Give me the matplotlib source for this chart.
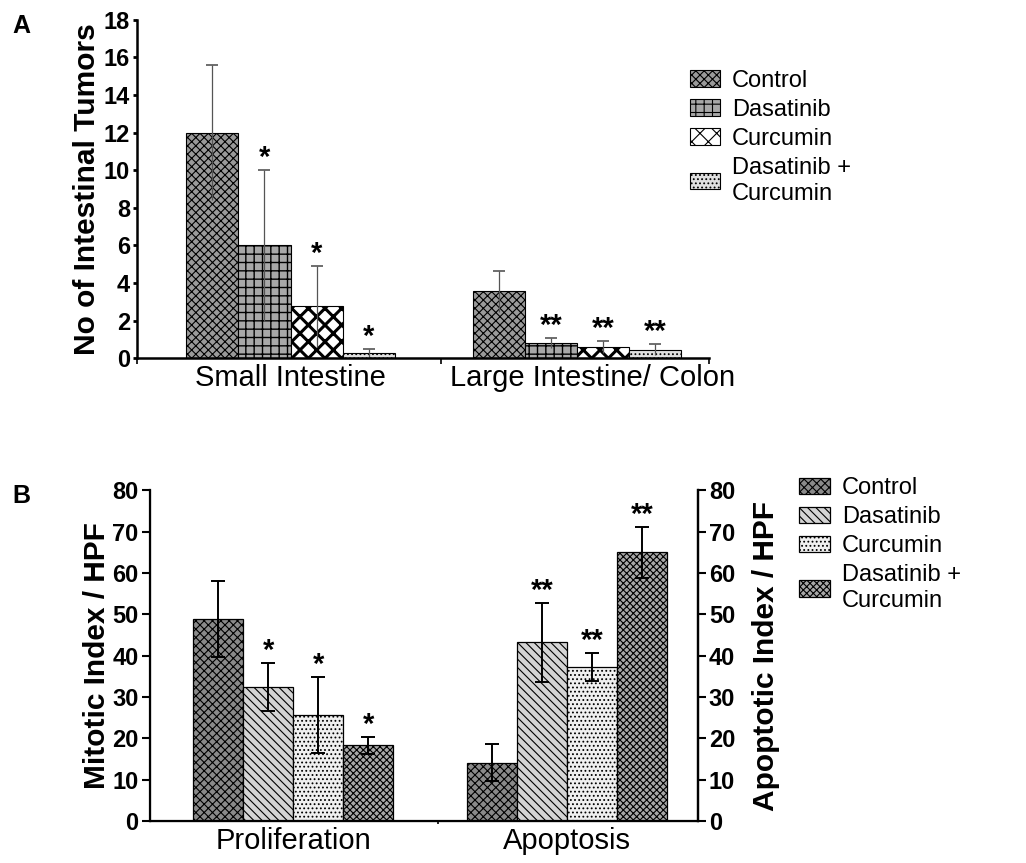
import matplotlib
matplotlib.use("Agg")
import matplotlib.pyplot as plt
import numpy as np

plt.rcParams['font.family'] = ['Liberation Sans', 'DejaVu Sans']
plt.rcParams['hatch.linewidth'] = 0.8

treatments = ["Control", "Dasatinib", "Curcumin", "Dasatinib +\nCurcumin"]

# panel A: tumours per mouse
sites = ["Small Intestine", "Large Intestine/ Colon"]
tumor_mean = {
    "Control":   [12.0, 3.55],
    "Dasatinib": [6.0, 0.8],
    "Curcumin":  [2.75, 0.6],
    "D+C":       [0.25, 0.45],
}
tumor_err = {
    "Control":   [3.6, 1.1],
    "Dasatinib": [4.0, 0.25],
    "Curcumin":  [2.15, 0.3],
    "D+C":       [0.25, 0.3],
}
tumor_sig = {
    "Control":   ["", ""],
    "Dasatinib": ["*", "**"],
    "Curcumin":  ["*", "**"],
    "D+C":       ["*", "**"],
}

# panel B: mitotic / apoptotic index
measures = ["Proliferation", "Apoptosis"]
index_mean = {
    "Control":   [48.8, 14.1],
    "Dasatinib": [32.5, 43.2],
    "Curcumin":  [25.7, 37.2],
    "D+C":       [18.3, 65.0],
}
index_err = {
    "Control":   [9.2, 4.5],
    "Dasatinib": [5.8, 9.6],
    "Curcumin":  [9.2, 3.4],
    "D+C":       [2.0, 6.1],
}
index_sig = {
    "Control":   ["", ""],
    "Dasatinib": ["*", "**"],
    "Curcumin":  ["*", "**"],
    "D+C":       ["*", "**"],
}

keys = ["Control", "Dasatinib", "Curcumin", "D+C"]
style_a = {
    "Control":   dict(facecolor="#9a9a9a", hatch="xxxx"),
    "Dasatinib": dict(facecolor="#a8a8a8", hatch="++"),
    "Curcumin":  dict(facecolor="white", hatch="xx"),
    "D+C":       dict(facecolor="#e0e0e0", hatch="...."),
}
hatch_lw_a = {"Control": 0.8, "Dasatinib": 1.0, "Curcumin": 2.2, "D+C": 0.8}
style_b = {
    "Control":   dict(facecolor="#8a8a8a", hatch="xxxx"),
    "Dasatinib": dict(facecolor="#d4d4d4", hatch="\\\\\\\\"),
    "Curcumin":  dict(facecolor="#f0f0f0", hatch="...."),
    "D+C":       dict(facecolor="#a8a8a8", hatch="xxxxx"),
}

fig = plt.figure(figsize=(10.26, 8.63), dpi=100)
w = 0.2
offs = (np.arange(4) - 1.5) * w

# ---------------- A
axA = fig.add_axes([0.1335, 0.585, 0.558, 0.392])
centers_a = np.array([0.59, 1.69])
handles_a = []
for i, k in enumerate(keys):
    x = centers_a + offs[i]
    m = np.array(tumor_mean[k])
    e = np.array(tumor_err[k])
    with plt.rc_context({"hatch.linewidth": hatch_lw_a[k]}):
        b = axA.bar(x, m, w, edgecolor="black", linewidth=0.8, **style_a[k])
    handles_a.append(b)
    axA.errorbar(x, m, yerr=e, fmt="none", ecolor="#555555", elinewidth=0.9, capsize=0)
    axA.plot(x, m + e, ls="none", marker="_", ms=8, mew=1.2, color="#555555")
    for xi, top, s in zip(x, m + e, tumor_sig[k]):
        if s:
            axA.text(xi, top - 0.1, s, ha="center", va="bottom", fontsize=21, fontweight="bold")

axA.set_xlim(0, 2.2)
axA.set_ylim(0, 18)
axA.set_yticks(np.arange(0, 19, 2))
axA.set_xticks([0, 1.17, 2.2])
axA.set_xticklabels([])
axA.set_xticks(centers_a + np.array([0.0, 0.06]), minor=True)
axA.set_xticklabels(sites, minor=True, fontsize=21)
axA.tick_params(axis="x", which="minor", length=0, pad=4)
axA.tick_params(axis="x", which="major", length=4, width=1.2)
axA.tick_params(axis="y", length=3, width=2, labelsize=17, pad=2)
for t in axA.get_yticklabels():
    t.set_fontweight("bold")
axA.spines["top"].set_visible(False)
axA.spines["right"].set_visible(False)
axA.spines["left"].set_linewidth(1.8)
axA.spines["bottom"].set_linewidth(1.8)
axA.set_ylabel("No of Intestinal Tumors", fontsize=21.5, fontweight="bold", labelpad=2)
fig.text(0.012, 0.962, "A", fontsize=18, fontweight="bold")
fig.legend(handles_a, treatments, loc="upper left", bbox_to_anchor=(0.663, 0.93),
           frameon=False, fontsize=17, handlelength=1.3, handleheight=0.7,
           handletextpad=0.5, labelspacing=0.3, borderaxespad=0)

# ---------------- B
axB = fig.add_axes([0.146, 0.0487, 0.534, 0.383])
centers_b = np.array([0.574, 1.67])
handles_b = []
for i, k in enumerate(keys):
    x = centers_b + offs[i]
    m = np.array(index_mean[k])
    e = np.array(index_err[k])
    b = axB.bar(x, m, w, edgecolor="black", linewidth=0.9, **style_b[k])
    handles_b.append(b)
    axB.errorbar(x, m, yerr=e, fmt="none", ecolor="black", elinewidth=1.4,
                 capsize=5, capthick=1.4)
    for xi, top, s in zip(x, m + e, index_sig[k]):
        if s:
            axB.text(xi, top - 0.5, s, ha="center", va="bottom", fontsize=21, fontweight="bold")

axB.set_xlim(0, 2.192)
axB.set_ylim(0, 80)
axB.set_yticks(np.arange(0, 81, 10))
axB.set_xticks([1.152])
axB.set_xticklabels([])
axB.set_xticks(centers_b, minor=True)
axB.set_xticklabels(measures, minor=True, fontsize=21)
axB.tick_params(axis="x", which="minor", length=0, pad=4)
axB.tick_params(axis="x", which="major", length=2, width=1.2)
axB.tick_params(axis="y", length=6, width=1.5, labelsize=17, pad=2)
for t in axB.get_yticklabels():
    t.set_fontweight("bold")
axB.spines["top"].set_visible(False)
for s in ["left", "bottom", "right"]:
    axB.spines[s].set_linewidth(1.6)
axB.set_ylabel("Mitotic Index / HPF", fontsize=21.5, fontweight="bold", labelpad=1)

axB2 = axB.twinx()
axB2.set_ylim(0, 80)
axB2.set_yticks(np.arange(0, 81, 10))
axB2.tick_params(axis="y", length=6, width=1.5, labelsize=17, pad=2)
for t in axB2.get_yticklabels():
    t.set_fontweight("bold")
axB2.spines["top"].set_visible(False)
axB2.spines["right"].set_linewidth(1.6)
axB2.set_ylabel("Apoptotic Index / HPF", fontsize=21.5, fontweight="bold", labelpad=12)

fig.text(0.012, 0.417, "B", fontsize=18, fontweight="bold")
fig.legend(handles_b, treatments, loc="upper left", bbox_to_anchor=(0.77, 0.458),
           frameon=False, fontsize=17, handlelength=1.3, handleheight=0.7,
           handletextpad=0.5, labelspacing=0.3, borderaxespad=0)

fig.savefig("out.png", dpi=100)
